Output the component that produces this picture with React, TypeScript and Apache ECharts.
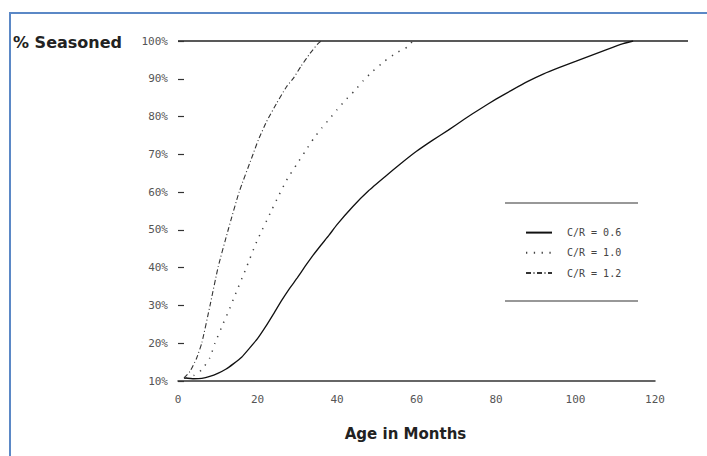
import React, { useEffect, useRef } from "react";
import * as echarts from "echarts";

// ---- data ----
const xTicks = [0, 20, 40, 60, 80, 100, 120];
const seriesNames = ["C/R = 0.6", "C/R = 1.0", "C/R = 1.2"];

const monthsLow = [1.5, 4, 6, 8, 10, 12, 14, 16, 18, 20, 22, 24, 26, 28, 30, 32, 34, 36, 38, 40, 44, 48, 52, 56, 60, 64, 68, 72, 76, 80, 84, 88, 92, 96, 100, 104, 108, 112, 114.5];
const valuesLow = [10.8, 10.6, 10.7, 11.2, 12, 13.1, 14.6, 16.3, 18.7, 21.2, 24.3, 27.7, 31.2, 34.4, 37.3, 40.4, 43.3, 46, 48.6, 51.4, 56.2, 60.4, 64, 67.5, 70.8, 73.7, 76.4, 79.3, 82, 84.6, 87, 89.3, 91.3, 93, 94.6, 96.2, 97.8, 99.3, 100];

const monthsMid = [2, 4, 6, 8, 9.3, 11.4, 12.7, 14.3, 17, 19.8, 23.6, 25.2, 27.5, 29.9, 32, 34.2, 36.2, 38.2, 40, 42, 44.4, 46.6, 49, 52, 55, 57.9, 59];
const valuesMid = [10.8, 11.5, 13, 16.1, 20, 25.3, 28.4, 32.6, 39.5, 46.9, 55.3, 58.8, 63.5, 67.4, 70.8, 74.3, 77, 79.5, 81.8, 84.2, 86.8, 89.5, 92, 94.7, 96.9, 98.5, 100];

const monthsHigh = [1.5, 3, 4.7, 6, 8.1, 10.1, 12.7, 15.4, 18.9, 20.2, 22.3, 24.8, 27.3, 29, 31, 33.2, 35.3, 36];
const valuesHigh = [10.8, 12.5, 16.1, 20.1, 30.2, 40.2, 50.3, 60.1, 70.1, 73.8, 78.7, 83.5, 87.9, 90.1, 93.4, 96.7, 99.4, 100];

const pairs = (xs: number[], ys: number[]) => xs.map((x, i) => [x, ys[i]]);

const MONO = "'DejaVu Sans Mono', monospace";
const SANS = "'DejaVu Sans', sans-serif";

export default function App() {
  const ref = useRef<HTMLDivElement>(null);

  useEffect(() => {
    if (!ref.current) return;
    const chart = echarts.init(ref.current, null, { renderer: "svg" });
    chart.setOption({
      animation: false,
      backgroundColor: "#ffffff",
      grid: { left: 178, top: 41, width: 477, height: 340, containLabel: false },
      xAxis: {
        type: "value",
        min: 0,
        max: 120,
        interval: 20,
        name: "Age in Months",
        nameLocation: "middle",
        nameGap: 45,
        nameTextStyle: {
          fontFamily: SANS,
          fontSize: 15,
          fontWeight: "bold",
          color: "#222",
          padding: [0, 22, 0, 0],
        },
        axisLine: { show: true, lineStyle: { color: "#333", width: 1.5 } },
        axisTick: { show: false },
        splitLine: { show: false },
        axisLabel: {
          fontFamily: MONO,
          fontSize: 11,
          color: "#555",
          margin: 13,
          formatter: (v: number) => (xTicks.includes(v) ? String(v) : ""),
        },
      },
      yAxis: {
        type: "value",
        min: 10,
        max: 100,
        interval: 10,
        axisLine: { show: false },
        axisTick: { show: true, inside: true, length: 6, lineStyle: { color: "#333", width: 1.2 } },
        splitLine: { show: false },
        axisLabel: {
          fontFamily: MONO,
          fontSize: 11,
          color: "#555",
          margin: 10,
          formatter: "{value}%",
        },
      },
      legend: {
        orient: "vertical",
        left: 520,
        top: 222,
        itemWidth: 26,
        itemHeight: 14,
        itemGap: 9,
        data: seriesNames,
        itemStyle: { opacity: 0 },
        textStyle: {
          fontFamily: MONO,
          fontSize: 10,
          color: "#444",
          padding: [0, 0, 0, 10],
        },
      },
      series: [
        {
          name: seriesNames[0],
          type: "line",
          symbol: "none",
          smooth: 0.15,
          data: pairs(monthsLow, valuesLow),
          lineStyle: { color: "#111", width: 1.3, type: "solid" },
          itemStyle: { color: "#111" },
        },
        {
          name: seriesNames[1],
          type: "line",
          symbol: "none",
          smooth: 0.15,
          data: pairs(monthsMid, valuesMid),
          lineStyle: { color: "#444", width: 1.5, type: [1.3, 6.5] },
          itemStyle: { color: "#444" },
        },
        {
          name: seriesNames[2],
          type: "line",
          symbol: "none",
          smooth: 0.15,
          data: pairs(monthsHigh, valuesHigh),
          lineStyle: { color: "#333", width: 1.1, type: [5, 2.5, 1, 2.5] },
          itemStyle: { color: "#333" },
        },
      ],
      graphic: [
        {
          type: "rect",
          silent: true,
          shape: { x: 10, y: 13, width: 740, height: 480 },
          style: { fill: "none", stroke: "#5b88c6", lineWidth: 2 },
        },
        {
          type: "line",
          silent: true,
          shape: { x1: 178, y1: 41, x2: 688, y2: 41 },
          style: { stroke: "#222", lineWidth: 1.5 },
        },
        {
          type: "line",
          silent: true,
          shape: { x1: 505, y1: 203, x2: 638, y2: 203 },
          style: { stroke: "#333", lineWidth: 1.2 },
        },
        {
          type: "line",
          silent: true,
          shape: { x1: 505, y1: 301, x2: 638, y2: 301 },
          style: { stroke: "#333", lineWidth: 1.2 },
        },
        {
          type: "text",
          silent: true,
          style: {
            text: "% Seasoned",
            x: 13,
            y: 42,
            verticalAlign: "middle",
            font: "bold 16px 'DejaVu Sans', sans-serif",
            fill: "#222",
          },
        },
      ],
    });
    return () => chart.dispose();
  }, []);

  return (
    <div
      ref={ref}
      style={{ position: "fixed", left: 0, top: 0, width: 707, height: 456, background: "#fff" }}
    />
  );
}
